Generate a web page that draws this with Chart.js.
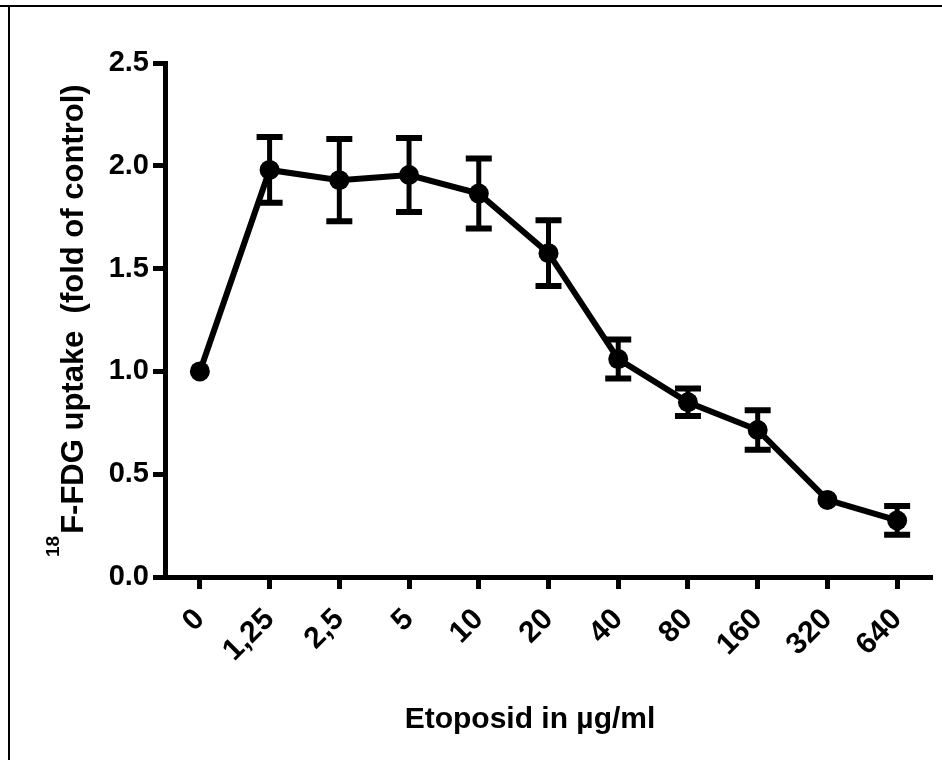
<!DOCTYPE html>
<html lang="de">
<head>
    <meta charset="UTF-8">
    <title>18F-FDG Aufnahme unter Etoposid</title>
    <script src="https://cdn.jsdelivr.net/npm/chart.js@4"></script>
    <style>
        html, body { margin: 0; padding: 0; background: #fff; }
        #wrap { position: relative; width: 942px; height: 760px; }
    </style>
</head>
<body>
<div id="wrap">
    <canvas id="fdgChart" width="942" height="760"></canvas>
</div>
<script>
// Etoposid-Konzentrationen (µg/ml) und FDG-Aufnahme relativ zur Kontrolle
const dosen = ['0', '1,25', '2,5', '5', '10', '20', '40', '80', '160', '320', '640'];
const aufnahme = [1.00, 1.98, 1.93, 1.955, 1.865, 1.575, 1.06, 0.85, 0.715, 0.375, 0.275];
const fehler = [0, 0.16, 0.20, 0.18, 0.17, 0.16, 0.095, 0.067, 0.096, 0, 0.07];
const yMin = 0;
const yMax = 2.5;
const yStep = 0.5;

const FONT = '"Liberation Sans", Arial, Helvetica, sans-serif';

// Rahmen oben/links
const rahmen = {
    id: 'rahmen',
    afterDraw(chart) {
        const ctx = chart.ctx;
        ctx.save();
        ctx.fillStyle = '#000';
        ctx.fillRect(0, 5, chart.width, 2);
        ctx.fillRect(8, 5, 2, chart.height - 5);
        ctx.restore();
    }
};

// Fehlerbalken (SEM) mit Querstrichen
const fehlerbalken = {
    id: 'fehlerbalken',
    afterDatasetsDraw(chart) {
        const ctx = chart.ctx;
        const xs = chart.scales.x;
        const ys = chart.scales.y;
        ctx.save();
        ctx.strokeStyle = '#000';
        ctx.lineCap = 'butt';
        fehler.forEach((e, i) => {
            if (!e) return;
            const x = xs.getPixelForValue(i);
            const yo = ys.getPixelForValue(aufnahme[i] + e);
            const yu = ys.getPixelForValue(aufnahme[i] - e);
            ctx.lineWidth = 5;
            ctx.beginPath();
            ctx.moveTo(x, yo);
            ctx.lineTo(x, yu);
            ctx.stroke();
            ctx.lineWidth = 6;
            ctx.beginPath();
            ctx.moveTo(x - 13, yo);
            ctx.lineTo(x + 13, yo);
            ctx.moveTo(x - 13, yu);
            ctx.lineTo(x + 13, yu);
            ctx.stroke();
        });
        ctx.restore();
    }
};

// Achsentitel (y-Titel mit hochgestellter Massenzahl)
const achsentitel = {
    id: 'achsentitel',
    afterDraw(chart) {
        const ctx = chart.ctx;
        ctx.save();
        ctx.fillStyle = '#000';

        // x-Titel
        ctx.font = 'bold 30px ' + FONT;
        ctx.textAlign = 'center';
        ctx.textBaseline = 'alphabetic';
        ctx.fillText('Etoposid in µg/ml', 530, 728);

        // y-Titel, von unten nach oben gelesen
        const sup = '18';
        const haupt = 'F-FDG uptake  (fold of control)';
        ctx.translate(83, 557);
        ctx.rotate(-Math.PI / 2);
        ctx.textAlign = 'left';
        ctx.font = 'bold 19px ' + FONT;
        const wSup = ctx.measureText(sup).width;
        ctx.fillText(sup, 0, -24);
        ctx.font = 'bold 31px ' + FONT;
        ctx.fillText(haupt, wSup + 2, 0);
        ctx.restore();
    }
};

const ctx = document.getElementById('fdgChart').getContext('2d');
new Chart(ctx, {
    type: 'line',
    data: {
        labels: dosen,
        datasets: [{
            data: aufnahme,
            borderColor: '#000',
            borderWidth: 6,
            pointRadius: 10,
            pointBackgroundColor: '#000',
            pointBorderColor: '#000',
            pointBorderWidth: 0,
            tension: 0,
            clip: false
        }]
    },
    options: {
        responsive: false,
        devicePixelRatio: 1,
        animation: false,
        layout: { padding: { left: 0, top: 63, right: 7, bottom: 0 } },
        plugins: {
            legend: { display: false },
            tooltip: { enabled: false }
        },
        scales: {
            x: {
                type: 'category',
                offset: true,
                grid: {
                    drawOnChartArea: false,
                    drawTicks: true,
                    tickLength: 12,
                    tickWidth: 5,
                    color: '#000'
                },
                border: { display: true, color: '#000', width: 5 },
                ticks: {
                    color: '#000',
                    font: { family: FONT, size: 30, weight: 'bold' },
                    minRotation: 45,
                    maxRotation: 45,
                    padding: 13,
                    autoSkip: false
                },
                afterFit(scale) { scale.height = 183; }
            },
            y: {
                min: yMin,
                max: yMax,
                grid: {
                    drawOnChartArea: false,
                    drawTicks: true,
                    tickLength: 12,
                    tickWidth: 5,
                    color: '#000'
                },
                border: { display: true, color: '#000', width: 5 },
                ticks: {
                    stepSize: yStep,
                    color: '#000',
                    font: { family: FONT, size: 29, weight: 'bold' },
                    padding: 4,
                    callback: v => v.toFixed(1)
                },
                afterFit(scale) { scale.width = 165; }
            }
        }
    },
    plugins: [fehlerbalken, achsentitel, rahmen]
});
</script>
</body>
</html>
